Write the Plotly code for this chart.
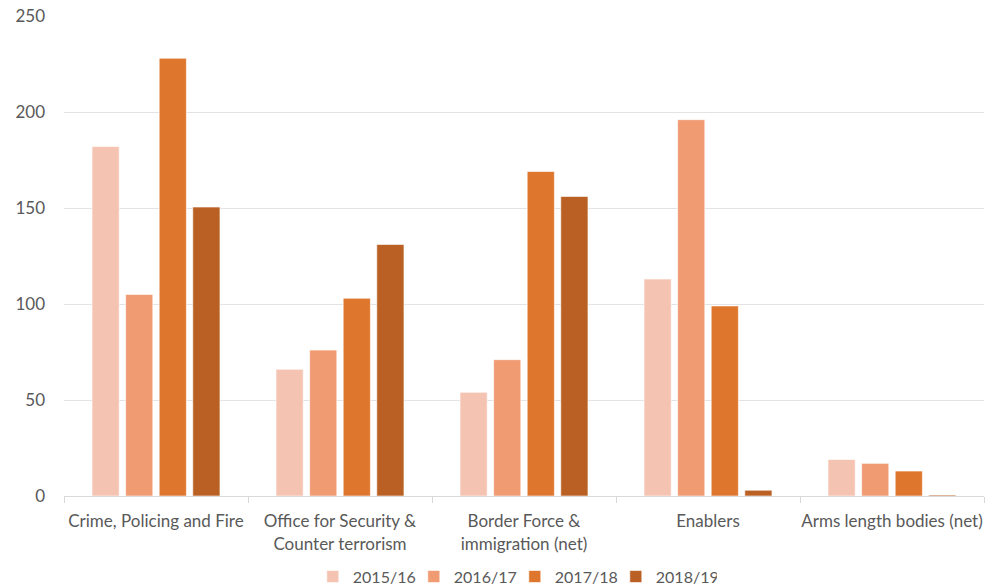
import plotly.graph_objects as go

categories = [
    "Crime, Policing and Fire",
    "Office for Security &<br>Counter terrorism",
    "Border Force &<br>immigration (net)",
    "Enablers",
    "Arms length bodies (net)",
]
series_names = ["2015/16", "2016/17", "2017/18", "2018/19"]
values_2015_16 = [182, 66, 54, 113, 19]
values_2016_17 = [105, 76, 71, 196, 17]
values_2017_18 = [228, 103, 169, 99, 13]
values_2018_19 = [150.5, 131, 156, 3, 0.5]
series_values = [values_2015_16, values_2016_17, values_2017_18, values_2018_19]
colors = ["#F5C3B1", "#F09B72", "#DF762E", "#BA6024"]

fig = go.Figure()
for name, vals, col in zip(series_names, series_values, colors):
    fig.add_trace(go.Bar(
        x=categories, y=vals, name=name,
        marker=dict(color=col, line=dict(color="rgba(255,255,255,0.6)", width=1)),
    ))

font_family = "Lato, 'Open Sans', sans-serif"
fig.update_layout(
    width=998, height=586,
    margin=dict(l=64, r=14, t=16, b=90, autoexpand=False),
    barmode="group", bargap=0.27, bargroupgap=0.19,
    plot_bgcolor="white", paper_bgcolor="white",
    font=dict(family=font_family, size=17, color="#595959"),
    showlegend=True,
    legend=dict(orientation="h", x=0.49, xanchor="center",
                yref="container", y=0.016, yanchor="middle",
                font=dict(size=16, color="#595959"),
                entrywidth=56, entrywidthmode="pixels",
                traceorder="normal"),
    xaxis=dict(showline=True, linecolor="#D9D9D9", linewidth=1,
               ticks="outside", tickson="boundaries", ticklen=6, tickcolor="#D9D9D9",
               tickfont=dict(size=17, color="#595959"), showgrid=False,
               tickangle=0, ticklabelstandoff=10),
    yaxis=dict(range=[0, 250], dtick=50, showgrid=True, gridcolor="#E3E3E3", gridwidth=1,
               zeroline=False, ticks="", tickfont=dict(size=17, color="#595959"),
               ticklabelstandoff=18),
)
fig.write_html("out.html")
